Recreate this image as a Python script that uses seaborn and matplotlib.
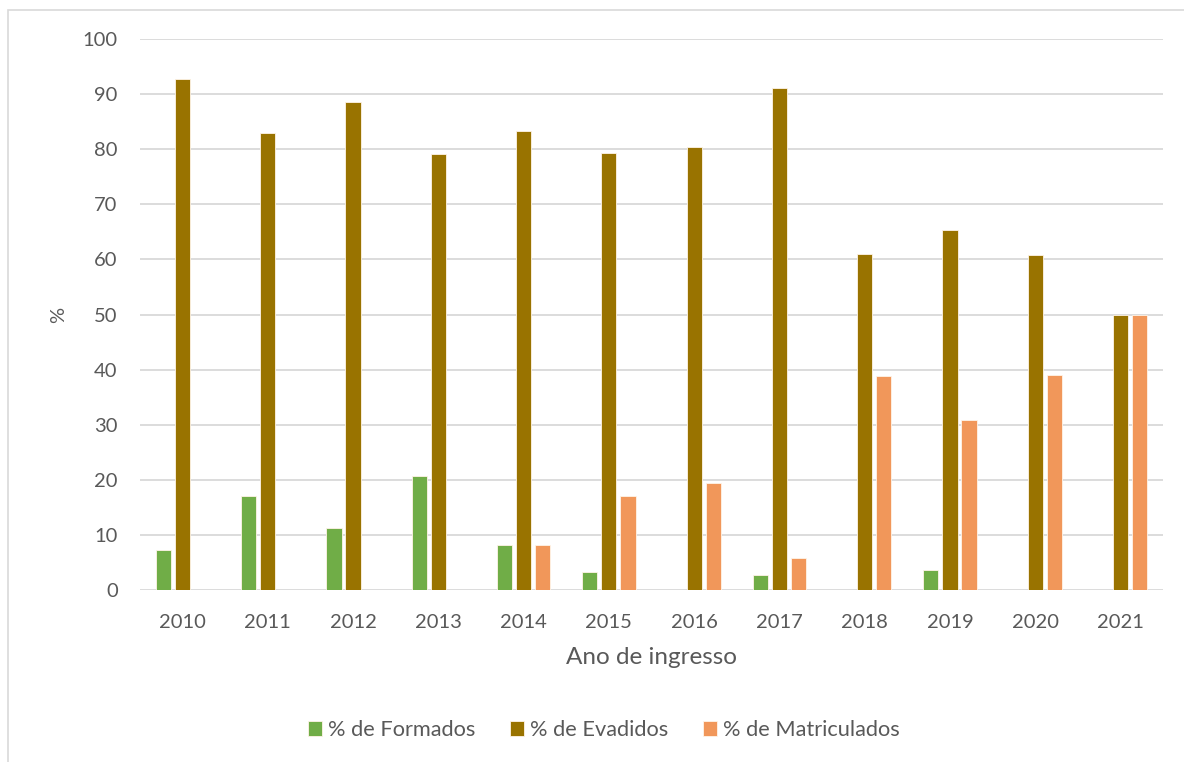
import matplotlib
matplotlib.use("Agg")
import matplotlib.pyplot as plt
from matplotlib.patches import Rectangle
import pandas as pd
import seaborn as sb

anos = ['2010', '2011', '2012', '2013', '2014', '2015',
        '2016', '2017', '2018', '2019', '2020', '2021']
formados = [7.2, 17.0, 11.3, 20.7, 8.2, 3.2, 0, 2.8, 0, 3.7, 0, 0]
evadidos = [92.7, 82.9, 88.5, 79.1, 83.3, 79.3, 80.4, 91.1, 61.0, 65.3, 60.8, 50.0]
matriculados = [0, 0, 0, 0, 8.2, 17.1, 19.5, 5.8, 38.9, 30.8, 39.1, 50.0]

series = ['% de Formados', '% de Evadidos', '% de Matriculados']
cores = ['#70AD47', '#997300', '#F1975A']
cinza = '#595959'

df = pd.DataFrame({'Ano': anos * 3,
                   'Serie': [series[0]] * 12 + [series[1]] * 12 + [series[2]] * 12,
                   'Valor': formados + evadidos + matriculados})

sb.set_style('white')
plt.rcParams['font.family'] = ['Lato', 'DejaVu Sans']

fig = plt.figure(figsize=(11.84, 7.62), dpi=100)
fig.subplots_adjust(left=0.1182, right=0.9823, top=0.9488, bottom=0.2257)
ax = fig.add_subplot(111)

# moldura cinza em volta do grafico
fig.patches.append(Rectangle((8 / 1184, -0.05), 1.2, 1 - 10 / 762 + 0.05,
                             transform=fig.transFigure, fill=False,
                             edgecolor='#D9D9D9', linewidth=1.2))

sb.barplot(data=df, x='Ano', y='Valor', hue='Serie', hue_order=series,
           palette=cores, saturation=1, width=0.67, gap=0.2, ax=ax,
           edgecolor='#FFF4E8', linewidth=0.6, legend=True)

ax.set_ylim(0, 100)
ax.set_yticks(range(0, 101, 10))
ax.yaxis.grid(True, color='#D9D9D9', linewidth=1.3)
ax.set_axisbelow(True)
for s in ax.spines.values():
    s.set_visible(False)
ax.tick_params(axis='both', length=0, labelsize=14.5, labelcolor=cinza)
ax.tick_params(axis='y', pad=16)
ax.tick_params(axis='x', pad=17)

ax.set_ylabel('%', fontsize=14.5, color=cinza, labelpad=11)
ax.set_xlabel('Ano de ingresso', fontsize=17.5, color=cinza, labelpad=12)

ax.legend(loc='center', bbox_to_anchor=(604 / 1184, 1 - 730 / 762),
          bbox_transform=fig.transFigure, ncol=3, frameon=False,
          handlelength=0.64, handleheight=0.64, handletextpad=0.26,
          columnspacing=1.6, fontsize=15.7, labelcolor=cinza)

plt.savefig('out.png', dpi=100)
